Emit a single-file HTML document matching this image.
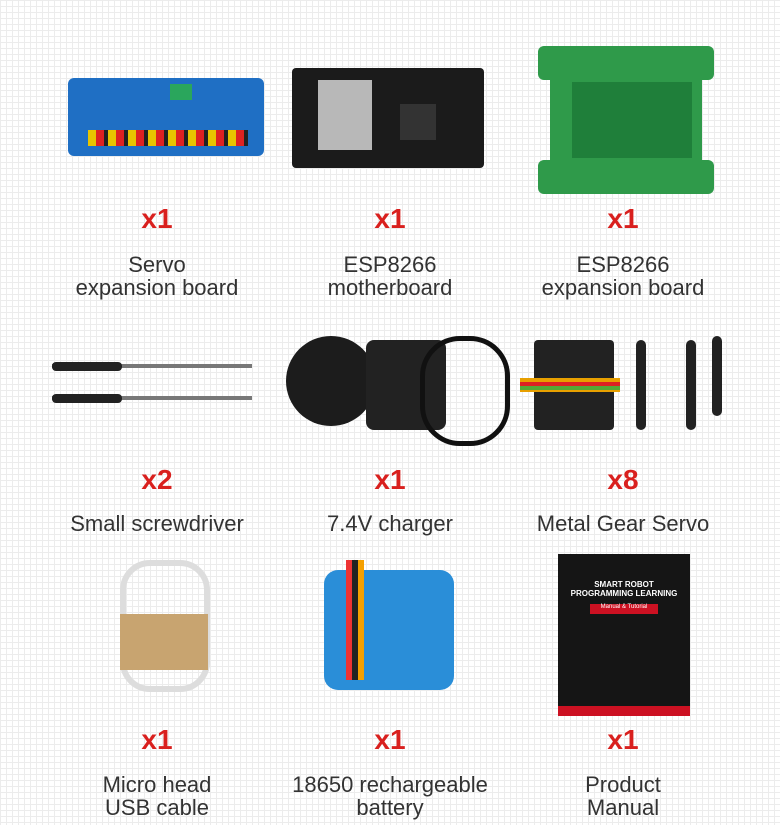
<!DOCTYPE html><html><head><meta charset="utf-8"><style>
body{margin:0;width:780px;height:825px;position:relative;overflow:hidden;background:#fff;
background-image:linear-gradient(#ececec 1px,transparent 1px),linear-gradient(90deg,#ececec 1px,transparent 1px);background-size:6px 6px;font-family:"Liberation Sans",sans-serif}
.a{position:absolute}
.q{position:absolute;width:200px;text-align:center;color:#d9201e;font-size:28px;font-weight:bold}
.l{position:absolute;width:260px;text-align:center;color:#333;font-size:22px;line-height:23px}
</style></head><body>
<!-- row1 images -->
<div class="a" style="left:68px;top:78px;width:196px;height:78px;background:#1f6fc4;border-radius:6px"></div>
<div class="a" style="left:88px;top:130px;width:160px;height:16px;background:repeating-linear-gradient(90deg,#e8c400 0 8px,#d22 8px 16px,#222 16px 20px)"></div>
<div class="a" style="left:170px;top:84px;width:22px;height:16px;background:#2aa65c"></div>
<div class="a" style="left:292px;top:68px;width:192px;height:100px;background:#1b1b1b;border-radius:4px"></div>
<div class="a" style="left:318px;top:80px;width:54px;height:70px;background:#b8b8b8"></div>
<div class="a" style="left:400px;top:104px;width:36px;height:36px;background:#333"></div>
<div class="a" style="left:538px;top:46px;width:176px;height:34px;background:#2f9a4a;border-radius:6px"></div>
<div class="a" style="left:538px;top:160px;width:176px;height:34px;background:#2f9a4a;border-radius:6px"></div>
<div class="a" style="left:550px;top:70px;width:152px;height:100px;background:#2f9a4a"></div>
<div class="a" style="left:580px;top:46px;width:92px;height:34px;background:#fff0;border-left:0"></div>
<div class="a" style="left:572px;top:82px;width:120px;height:76px;background:#1f7f3a"></div>
<!-- row2 images -->
<div class="a" style="left:52px;top:364px;width:200px;height:4px;background:#777"></div>
<div class="a" style="left:52px;top:362px;width:70px;height:9px;background:#222;border-radius:4px"></div>
<div class="a" style="left:52px;top:396px;width:200px;height:4px;background:#777"></div>
<div class="a" style="left:52px;top:394px;width:70px;height:9px;background:#222;border-radius:4px"></div>
<div class="a" style="left:286px;top:336px;width:90px;height:90px;background:#1c1c1c;border-radius:50%"></div>
<div class="a" style="left:366px;top:340px;width:80px;height:90px;background:#222;border-radius:8px"></div>
<div class="a" style="left:420px;top:336px;width:80px;height:100px;border:5px solid #111;border-radius:40px"></div>
<div class="a" style="left:534px;top:340px;width:80px;height:90px;background:#222;border-radius:4px"></div>
<div class="a" style="left:520px;top:378px;width:100px;height:14px;background:repeating-linear-gradient(#e8a000 0 4px,#d22 4px 8px,#5a3 8px 12px)"></div>
<div class="a" style="left:636px;top:340px;width:10px;height:90px;background:#222;border-radius:5px"></div>
<div class="a" style="left:686px;top:340px;width:10px;height:90px;background:#222;border-radius:5px"></div>
<div class="a" style="left:712px;top:336px;width:10px;height:80px;background:#222;border-radius:5px"></div>
<!-- row3 images -->
<div class="a" style="left:120px;top:560px;width:78px;height:120px;border:6px solid #ddd;border-radius:30px"></div>
<div class="a" style="left:120px;top:614px;width:88px;height:56px;background:#c8a470"></div>
<div class="a" style="left:324px;top:570px;width:130px;height:120px;background:#2a8ed8;border-radius:14px"></div>
<div class="a" style="left:346px;top:560px;width:24px;height:120px;background:repeating-linear-gradient(90deg,#e33 0 6px,#222 6px 12px,#f5a000 12px 18px,#fff0 18px 24px)"></div>
<div class="a" style="left:558px;top:554px;width:132px;height:162px;background:#151515"></div>
<div class="a" style="left:558px;top:706px;width:132px;height:10px;background:#c12"></div>
<div class="a" style="left:562px;top:580px;width:124px;text-align:center;color:#fff;font-size:8px;font-weight:bold">SMART ROBOT<br>PROGRAMMING LEARNING</div>
<div class="a" style="left:590px;top:604px;width:68px;height:10px;background:#c12;color:#fff;font-size:6px;text-align:center">Manual &amp; Tutorial</div>
<!-- labels -->
<div class="q" style="left:57px;top:203px">x1</div>
<div class="q" style="left:290px;top:203px">x1</div>
<div class="q" style="left:523px;top:203px">x1</div>
<div class="l" style="left:27px;top:253px">Servo<br>expansion board</div>
<div class="l" style="left:260px;top:253px">ESP8266<br>motherboard</div>
<div class="l" style="left:493px;top:253px">ESP8266<br>expansion board</div>
<div class="q" style="left:57px;top:464px">x2</div>
<div class="q" style="left:290px;top:464px">x1</div>
<div class="q" style="left:523px;top:464px">x8</div>
<div class="l" style="left:27px;top:512px">Small screwdriver</div>
<div class="l" style="left:260px;top:512px">7.4V charger</div>
<div class="l" style="left:493px;top:512px">Metal Gear Servo</div>
<div class="q" style="left:57px;top:724px">x1</div>
<div class="q" style="left:290px;top:724px">x1</div>
<div class="q" style="left:523px;top:724px">x1</div>
<div class="l" style="left:27px;top:773px">Micro head<br>USB cable</div>
<div class="l" style="left:260px;top:773px">18650 rechargeable<br>battery</div>
<div class="l" style="left:493px;top:773px">Product<br>Manual</div>
</body></html>
